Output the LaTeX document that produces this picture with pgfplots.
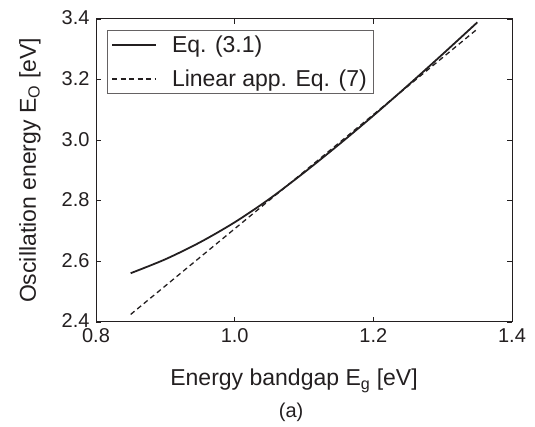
\documentclass[border=0pt]{standalone}
\usepackage{pgfplots}
\pgfplotsset{compat=1.18}
\usepackage{fontspec}
\setmainfont{Liberation Sans}
\definecolor{ink}{RGB}{35,31,32}
\begin{document}
\begin{tikzpicture}
\path (0,0) rectangle (535pt,427pt);
\begin{axis}[
  at={(96pt,105pt)}, anchor=south west,
  scale only axis, width=416pt, height=303pt,
  xmin=0.8, xmax=1.4, ymin=2.4, ymax=3.4,
  xtick={0.8,1.0,1.2,1.4}, ytick={2.4,2.6,2.8,3.0,3.2,3.4},
  tick align=inside, major tick length=5pt,
  axis line style={ink, line width=1pt},
  tick style={ink, line width=0.8pt},
  /pgf/number format/.cd, fixed, fixed zerofill, precision=1, assume math mode=true,
  /pgfplots/.cd,
  ticklabel style={font=\fontsize{20}{24}\selectfont, text=ink},
  xticklabel style={yshift=-3pt},
  yticklabel style={xshift=-3pt, yshift=1pt},
  xlabel={Energy bandgap E\textsubscript{g} [eV]},
  ylabel={Oscillation energy E\textsubscript{O} [eV]},
  label style={font=\fontsize{23}{27}\selectfont, text=ink},
  xlabel style={at={(axis description cs:0.476,-0.195)}, anchor=center},
  ylabel style={at={(axis description cs:-0.159,0.5)}, anchor=center},
  clip=false,
  legend cell align=left,
  legend style={at={(axis description cs:0,1)}, anchor=north west,
    xshift=11pt, yshift=-11pt, draw=ink!70,
    font=\fontsize{23}{27}\selectfont, text=ink,
    inner xsep=4pt, inner ysep=3.5pt, row sep=12pt, column sep=13pt,
    nodes={inner sep=2pt}},
  legend image code/.code={\draw[#1] (0pt,0pt) -- (44pt,0pt);},
]
\addplot[ink, line width=1.8pt, smooth] table {
x y
0.85 2.561
0.90 2.607
0.95 2.663
1.00 2.729
1.05 2.806
1.10 2.893
1.15 2.985
1.20 3.081
1.25 3.181
1.30 3.284
1.35 3.389
};
\addlegendentry{Eq. (3.1)}
\addplot[ink, line width=1.3pt, dash pattern=on 5pt off 3.5pt] table {
x y
0.85 2.425
1.35 3.367
};
\addlegendentry{Linear app. Eq. (7)}
\node[font=\fontsize{20}{24}\selectfont, text=ink] at (axis description cs:0.469,-0.297) {(a)};
\end{axis}
\end{tikzpicture}
\end{document}
